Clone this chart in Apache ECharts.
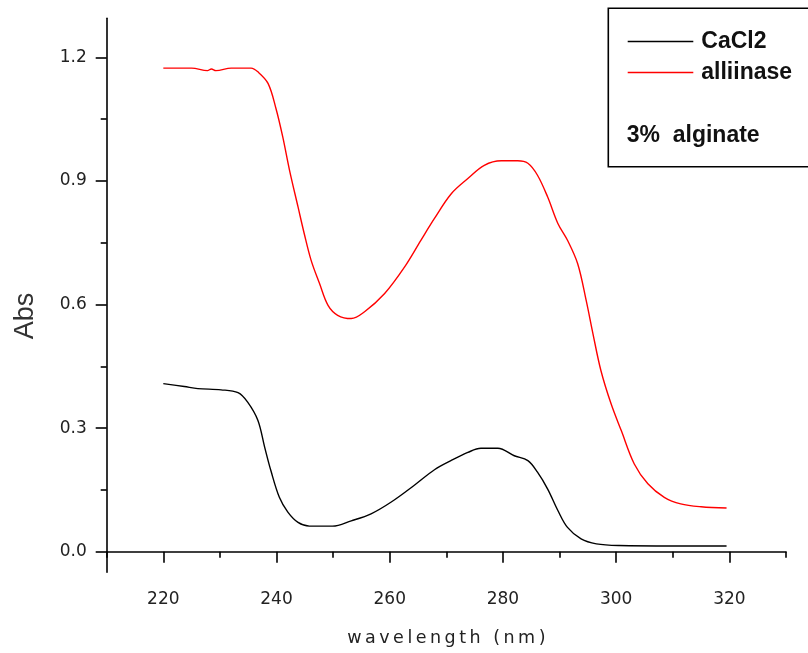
<!DOCTYPE html>
<html>
<head>
<meta charset="utf-8">
<script src="https://cdn.jsdelivr.net/npm/echarts@6/dist/echarts.min.js"></script>
<style>
  html, body { margin: 0; padding: 0; background: #fff; }
  #chart { width: 808px; height: 653px; }
</style>
</head>
<body>
<div id="chart"></div>
<script>
// UV absorbance spectra, 3% alginate beads
const wavelengthCaCl2 = [220, 223.7, 226.1, 230.2, 233.2, 234.9, 236.7, 237.9, 239.0, 240.5, 242.0, 243.8, 245.8, 249.9, 253.2, 256.7, 260.2, 264.4, 267.9, 270.8, 273.8, 276.1, 279.1, 282.0, 284.4, 286.1, 287.9, 289.7, 291.4, 293.8, 296.5, 300.5, 310, 319.5];
const absCaCl2 = [0.408, 0.401, 0.396, 0.393, 0.386, 0.363, 0.319, 0.254, 0.197, 0.132, 0.096, 0.071, 0.062, 0.062, 0.075, 0.092, 0.120, 0.162, 0.199, 0.221, 0.241, 0.251, 0.251, 0.233, 0.221, 0.193, 0.152, 0.100, 0.059, 0.031, 0.019, 0.015, 0.014, 0.014];

const wavelengthAlliinase = [220, 225, 227.8, 228.5, 229.3, 232, 235.5, 236.7, 238.5, 239.9, 241.1, 242.3, 243.8, 244.9, 246.1, 247.6, 249.1, 250.8, 253.2, 255.5, 259.1, 262.6, 265.5, 267.9, 270.8, 273.8, 276.7, 279.7, 282.6, 284.4, 286.1, 287.9, 289.7, 291.4, 293.2, 294.7, 295.9, 297.3, 299.1, 300.9, 303.2, 305.6, 308.5, 311.4, 315.0, 319.5];
const absAlliinase = [1.174, 1.174, 1.168, 1.172, 1.168, 1.174, 1.174, 1.165, 1.137, 1.076, 1.007, 0.926, 0.837, 0.772, 0.708, 0.651, 0.598, 0.574, 0.566, 0.582, 0.627, 0.691, 0.756, 0.809, 0.868, 0.906, 0.938, 0.949, 0.949, 0.943, 0.914, 0.861, 0.797, 0.756, 0.699, 0.610, 0.529, 0.440, 0.359, 0.294, 0.213, 0.165, 0.132, 0.116, 0.109, 0.106];

const xMajorTicks = [220, 240, 260, 280, 300, 320];
const xMinorTicks = [210, 230, 250, 270, 290, 310, 330];
const yMajorTicks = [0, 0.3, 0.6, 0.9, 1.2];
const yMinorTicks = [0.15, 0.45, 0.75, 1.05];

const seriesNames = ['CaCl2', 'alliinase'];
const noteText = '3%  alginate';
const xAxisTitle = 'wavelength (nm)';
const yAxisTitle = 'Abs';

const zip = (xs, ys) => xs.map((x, i) => [x, ys[i]]);
// open up the letter spacing of a label with thin spaces
const spaced = s => Array.from(s).join('\u2009');

const axisColor = '#000';
const labelFont = { fontFamily: 'DejaVu Sans', fontSize: 17, color: '#222' };
const legendText = { fontFamily: 'Liberation Sans', fontWeight: 'bold', fontSize: 23, color: '#111', padding: [0, 0, 0, 3] };

const chart = echarts.init(document.getElementById('chart'), null, { renderer: 'canvas' });

chart.setOption({
  animation: false,
  backgroundColor: '#fff',
  grid: { left: 106.7, right: 22, top: 18.3, bottom: 80.7, containLabel: false },
  xAxis: [
    {
      type: 'value', min: 210, max: 330, position: 'bottom',
      axisLine: { show: true, lineStyle: { color: axisColor, width: 1.6 } },
      axisTick: { show: true, customValues: xMajorTicks, length: 11, lineStyle: { color: axisColor, width: 1.6 } },
      axisLabel: Object.assign({ customValues: xMajorTicks, margin: 19 }, labelFont),
      splitLine: { show: false },
      name: spaced(xAxisTitle), nameLocation: 'middle', nameGap: 57,
      nameTextStyle: { fontFamily: 'DejaVu Sans', fontSize: 17.5, color: '#222' }
    },
    {
      type: 'value', min: 210, max: 330, position: 'bottom', offset: 0,
      axisLine: { show: false },
      axisTick: { show: true, customValues: xMinorTicks, length: 6, lineStyle: { color: axisColor, width: 1.6 } },
      axisLabel: { show: false },
      splitLine: { show: false }
    }
  ],
  yAxis: [
    {
      type: 'value', min: -0.05, max: 1.295, position: 'left',
      axisLine: { show: true, lineStyle: { color: axisColor, width: 1.6 } },
      axisTick: { show: true, customValues: yMajorTicks, length: 11, lineStyle: { color: axisColor, width: 1.6 } },
      axisLabel: Object.assign({ customValues: yMajorTicks, margin: 20, formatter: v => v.toFixed(1) }, labelFont),
      splitLine: { show: false }
    },
    {
      type: 'value', min: -0.05, max: 1.295, position: 'left', offset: 0,
      axisLine: { show: false },
      axisTick: { show: true, customValues: yMinorTicks, length: 6, lineStyle: { color: axisColor, width: 1.6 } },
      axisLabel: { show: false },
      splitLine: { show: false }
    }
  ],
  legend: [
    {
      data: [seriesNames[0]], left: 627.7, top: 30, padding: 0, orient: 'vertical',
      icon: 'rect', itemWidth: 65.6, itemHeight: 1.5, textStyle: legendText
    },
    {
      data: [seriesNames[1]], left: 627.7, top: 61, padding: 0, orient: 'vertical',
      icon: 'rect', itemWidth: 65.6, itemHeight: 1.5, textStyle: legendText
    }
  ],
  graphic: [
    {
      type: 'polyline', silent: true,
      shape: { points: [[820, 8.3], [608.3, 8.3], [608.3, 166.7], [820, 166.7]] },
      style: { fill: 'none', stroke: '#000', lineWidth: 1.6 }
    },
    {
      type: 'text', x: 626.7, y: 135.5, silent: true,
      style: { text: noteText, font: 'bold 23px "Liberation Sans"', fill: '#111', verticalAlign: 'middle' }
    },
    {
      type: 'text', x: 25.5, y: 316, rotation: Math.PI / 2, silent: true,
      style: { text: yAxisTitle, font: '27px "Liberation Sans"', fill: '#333', align: 'center', verticalAlign: 'middle' }
    }
  ],
  series: [
    {
      name: seriesNames[0], type: 'line', xAxisIndex: 0, yAxisIndex: 0,
      data: zip(wavelengthCaCl2, absCaCl2),
      showSymbol: false, symbol: 'none', smooth: 0.35,
      lineStyle: { color: '#000', width: 1.4 }, itemStyle: { color: '#000' }
    },
    {
      name: seriesNames[1], type: 'line', xAxisIndex: 0, yAxisIndex: 0,
      data: zip(wavelengthAlliinase, absAlliinase),
      showSymbol: false, symbol: 'none', smooth: 0.35,
      lineStyle: { color: '#ff0000', width: 1.4 }, itemStyle: { color: '#ff0000' }
    }
  ]
});
</script>
</body>
</html>
